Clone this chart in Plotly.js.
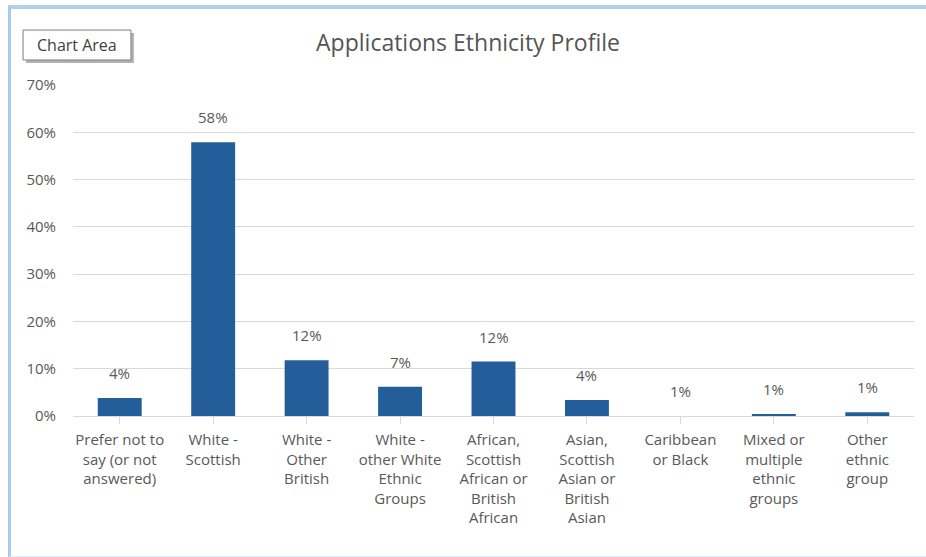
<!DOCTYPE html>
<html><head><meta charset="utf-8">
<script src="https://cdn.plot.ly/plotly-3.0.1.min.js"></script>
<style>
html,body{margin:0;padding:0;background:#fff;}
#frame{position:absolute;left:8px;top:5px;width:918px;height:552px;border-left:3px solid #a9cbe9;border-top:4px solid #b0d0ee;border-bottom:1px solid #e3edf7;box-sizing:border-box;}
#chart{position:absolute;left:0;top:0;width:926px;height:557px;}
</style></head>
<body>
<div id="frame"></div>
<div id="chart"></div>
<script>
const categories = [
  "Prefer not to<br>say (or not<br>answered)",
  "White -<br>Scottish",
  "White -<br>Other<br>British",
  "White -<br>other White<br>Ethnic<br>Groups",
  "African,<br>Scottish<br>African or<br>British<br>African",
  "Asian,<br>Scottish<br>Asian or<br>British<br>Asian",
  "Caribbean<br>or Black",
  "Mixed or<br>multiple<br>ethnic<br>groups",
  "Other<br>ethnic<br>group"
];
const values = [0.038, 0.579, 0.118, 0.062, 0.115, 0.034, 0.0, 0.004, 0.008];
const labels = ["4%", "58%", "12%", "7%", "12%", "4%", "1%", "1%", "1%"];
const yTicks = [0, 0.1, 0.2, 0.3, 0.4, 0.5, 0.6, 0.7];

const grey = '#595959';
const font = 'Open Sans, Liberation Sans, sans-serif';

const annotations = values.map((v, i) => ({
  x: i, y: v, xref: 'x', yref: 'y', text: labels[i], showarrow: false,
  yanchor: 'bottom', yshift: 13, font: {family: font, size: 15, color: grey}
}));
annotations.push({
  xref: 'paper', yref: 'paper', x: 0.0048, y: 1.121, xanchor: 'center', yanchor: 'middle',
  text: 'Chart Area', showarrow: false, font: {family: font, size: 16, color: '#404040'}
});

const trace = {
  type: 'bar', x: categories.map((c, i) => i), y: values,
  marker: {color: '#235e9a'}, hoverinfo: 'none'
};

const layout = {
  width: 926, height: 557,
  margin: {l: 73, r: 12, t: 85, b: 141},
  paper_bgcolor: 'rgba(0,0,0,0)', plot_bgcolor: 'rgba(0,0,0,0)',
  bargap: 0.53,
  showlegend: false,
  title: {text: 'Applications Ethnicity Profile', x: 0.5054, xanchor: 'center', y: 0.922, yanchor: 'middle',
          font: {family: font, size: 23, color: '#555555'}},
  xaxis: {
    tickmode: 'array', tickvals: categories.map((c, i) => i), ticktext: categories,
    range: [-0.5, categories.length - 0.5],
    showline: true, linecolor: '#d9d9d9', linewidth: 1,
    ticks: 'outside', ticklen: 7, tickcolor: '#d9d9d9', tickson: 'boundaries',
    showgrid: false, tickangle: 0, zeroline: false, ticklabelstandoff: 3,
    tickfont: {family: font, size: 15, color: grey}
  },
  yaxis: {
    range: [0, 0.7], tickmode: 'array', tickvals: yTicks, tickformat: '.0%',
    showgrid: true, gridcolor: '#d9d9d9', gridwidth: 1, zeroline: false,
    showline: false, ticks: '', ticklabelstandoff: 16,
    tickfont: {family: font, size: 15, color: grey}
  },
  annotations: annotations,
  shapes: [
    {type: 'rect', xref: 'paper', yref: 'paper', x0: -0.0558, x1: 0.0724, y0: 1.0665, y1: 1.157,
     line: {width: 0}, fillcolor: 'rgba(0,0,0,0.3)', layer: 'above'},
    {type: 'rect', xref: 'paper', yref: 'paper', x0: -0.0594, x1: 0.0689, y0: 1.0755, y1: 1.166,
     line: {width: 1, color: '#7f7f7f'}, fillcolor: '#ffffff', layer: 'above'}
  ]
};

Plotly.newPlot('chart', [trace], layout, {displayModeBar: false, staticPlot: true});
</script>
</body></html>
